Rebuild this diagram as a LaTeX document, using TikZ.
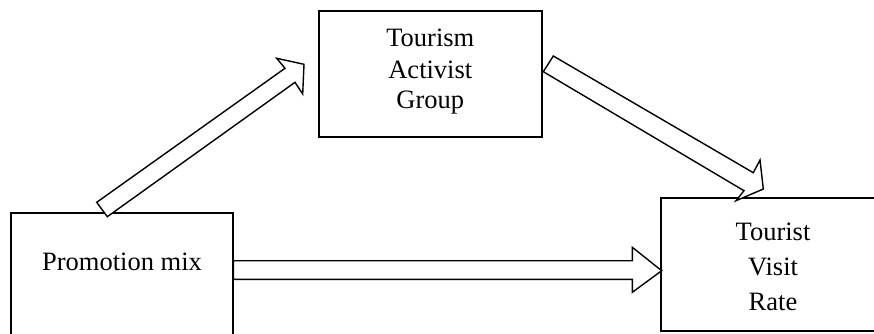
\documentclass[tikz,border=0pt]{standalone}
\usepackage{fontspec}
\setmainfont{Liberation Serif}
\begin{document}
\begin{tikzpicture}[x=1pt,y=-1pt,
  box/.style={draw, line width=1.8pt, inner sep=0pt},
  blockarrow/.style={draw, line width=1.4pt, fill=white, line join=miter},
  txt/.style={font=\fontsize{26.5}{31}\selectfont, anchor=base, inner sep=0pt}]
\useasboundingbox (0,0) rectangle (874,333);
\clip (0,0) rectangle (874,333);
% boxes
\node[box, minimum width=222.6pt, minimum height=140pt] (pm) at (122,282.7) {};
\node[box, minimum width=222.7pt, minimum height=126.3pt] (tag) at (430.35,74.15) {};
\node[box, minimum width=224pt, minimum height=133pt] (tvr) at (773,264.2) {};
% texts
\node[txt] (pmt) at (122,270) {Promotion mix};
\node[txt] (tag1) at (430.3,46.7) {Tourism};
\node[txt] (tag2) at (430.3,78.3) {Activist};
\node[txt] (tag3) at (430.3,108.8) {Group};
\node[txt] (tvr1) at (773,240) {Tourist};
\node[txt] (tvr2) at (773,275) {Visit};
\node[txt] (tvr3) at (773,310.7) {Rate};
% block arrows
\draw[blockarrow] (96.7,202.3) -- (285,68.3) -- (276.7,58.3) -- (304,64.3)
  -- (302.7,94) -- (295,82.3) -- (107.3,216.7) -- cycle;
\draw[blockarrow] (553.3,56) -- (753.3,172.7) -- (760,160) -- (763.3,189)
  -- (736,200.7) -- (744,190.7) -- (543.3,71.7) -- cycle;
\draw[blockarrow] (233.3,260.7) -- (632.3,260.7) -- (632.3,247.3) -- (661.7,270.7)
  -- (632.3,292.3) -- (632.3,279.3) -- (233.3,279.3) -- cycle;
\end{tikzpicture}
\end{document}
